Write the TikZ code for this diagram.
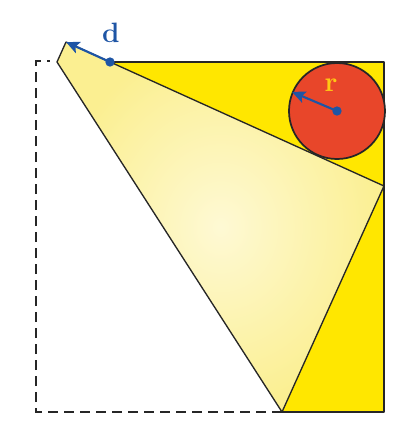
\documentclass[tikz,border=0pt]{standalone}
\usetikzlibrary{arrows.meta}
\definecolor{paperyellow}{RGB}{255,231,0}
\definecolor{flapouter}{RGB}{251,239,145}
\definecolor{flapinner}{RGB}{254,249,212}
\definecolor{discred}{RGB}{232,70,42}
\definecolor{markblue}{RGB}{30,85,165}
\definecolor{rlabel}{RGB}{255,200,20}
\begin{document}
\begin{tikzpicture}[x=0.75pt,y=-0.75pt,
  outline/.style={draw=black!85, line width=1pt, line join=round},
  foldline/.style={draw=black!85, line width=1pt, dash pattern=on 7.5pt off 4.5pt},
  vec/.style={draw=markblue, line width=1.6pt, -{Stealth[length=10pt,width=9pt,inset=2pt]}},
  dot/.style={circle, fill=markblue, inner sep=0pt, minimum size=7pt},
  lbl/.style={font=\fontsize{21}{21}\selectfont\bfseries, inner sep=0pt}]
\useasboundingbox (0,0) rectangle (406,430);
% key points
\coordinate (A) at (36,61);
\coordinate (B) at (36,412);
\coordinate (F) at (282,412);
\coordinate (C) at (384,412);
\coordinate (G) at (384,186);
\coordinate (T) at (384,62);
\coordinate (D) at (110,62);
\coordinate (P) at (66,42);
\coordinate (L) at (57,62);
% uncovered paper
\fill[paperyellow] (D) -- (T) -- (C) -- (F) -- cycle;
\draw[outline] (D) -- (T) -- (C) -- (F);
% folded flap
\shade[inner color=flapinner, outer color=flapouter] (P) -- (G) -- (F) -- (L) -- cycle;
\draw[outline] (P) -- (G) -- (F) -- (L) -- cycle;
% original outline (dashed)
\draw[foldline] (F) -- (B) -- (A) -- (50,61);
% inscribed circle
\node[circle, draw=black!85, line width=1.3pt, fill=discred, minimum size=72pt, inner sep=0pt] (O) at (337,111) {};
\node[dot] (Oc) at (O.center) {};
\draw[vec] (Oc.center) -- (O.157);
% distance d
\node[dot] (Dd) at (D) {};
\draw[vec] (Dd.center) -- (P);
% labels
\node[lbl, text=markblue] (dl) at (111,33) {d};
\node[lbl, text=rlabel] (rl) at (331,85) {r};
\end{tikzpicture}
\end{document}
